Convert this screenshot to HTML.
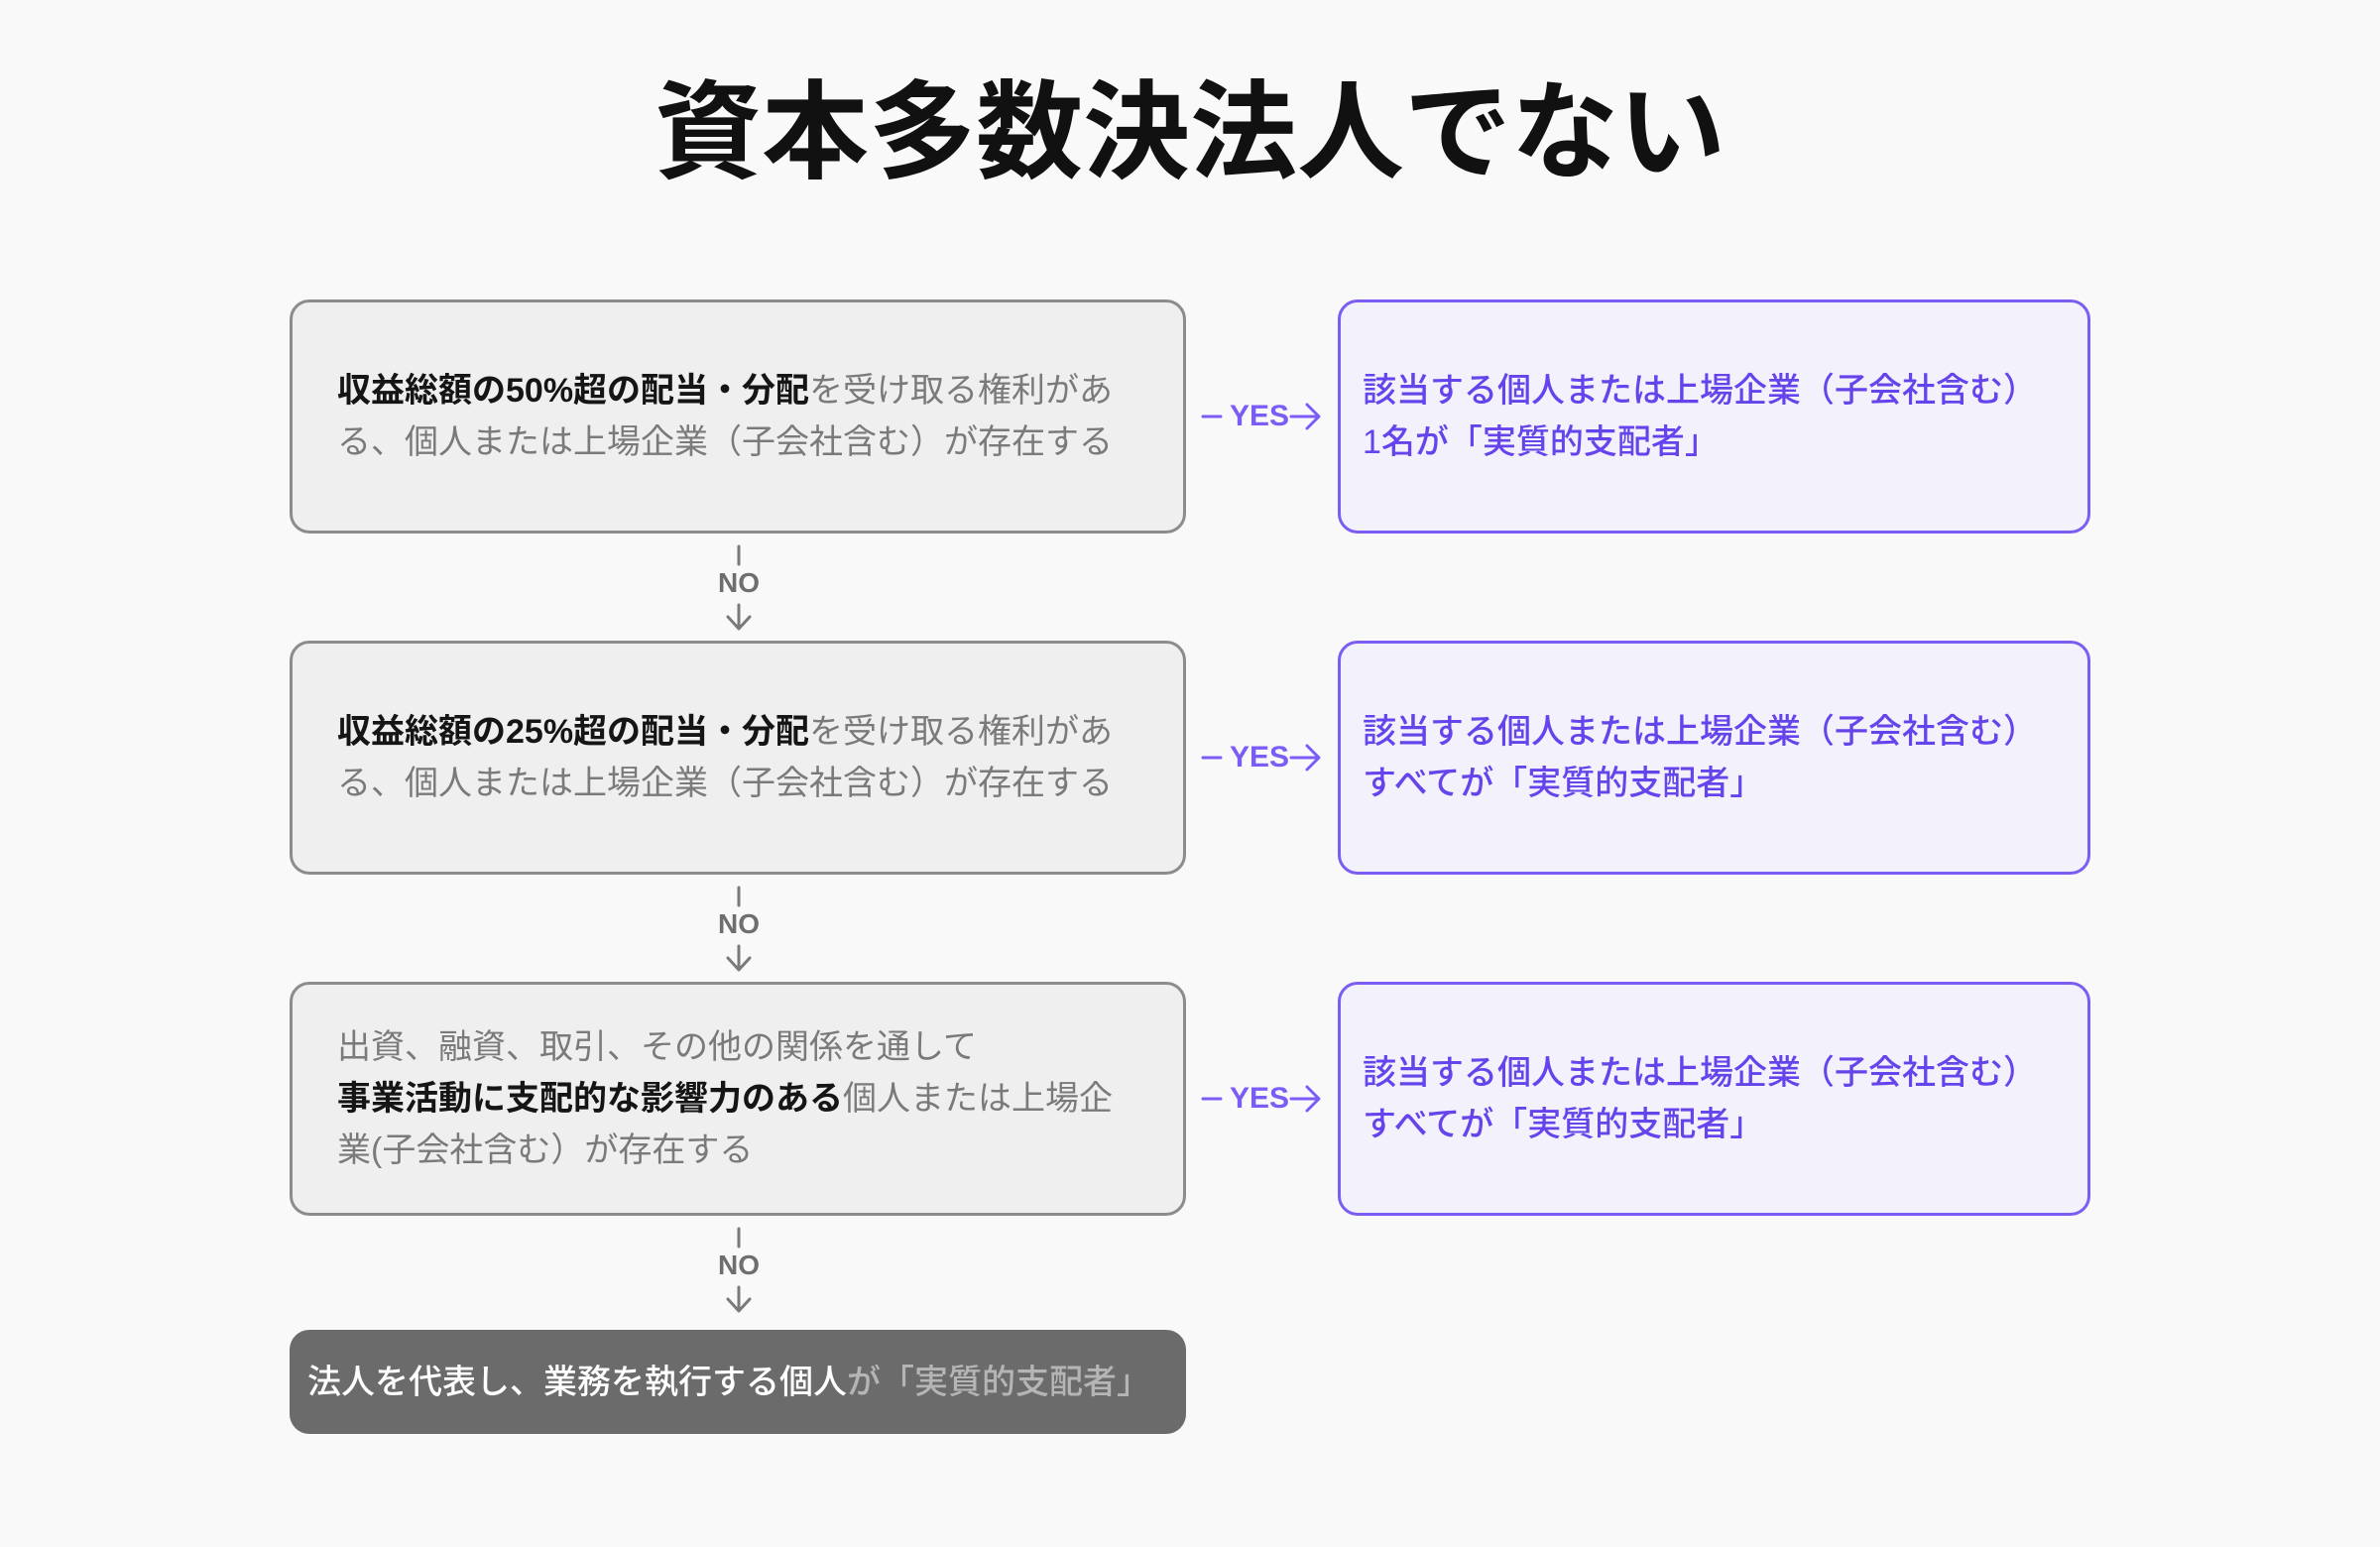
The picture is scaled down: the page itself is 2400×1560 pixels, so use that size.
<!DOCTYPE html>
<html><head><meta charset="utf-8"><style>
body{margin:0;width:2400px;height:1560px;background:#f9f9f9;font-family:"Liberation Sans","Noto Sans CJK JP",sans-serif;position:relative;overflow:hidden}
.t{position:absolute;left:0;width:2400px;top:64px;text-align:center;font-size:108px;font-weight:700;color:#111;line-height:140px}
.b{position:absolute;box-sizing:border-box;border-radius:20px;display:flex;align-items:center;font-size:34px;line-height:52px}
.l{left:292px;width:904px;background:#efefef;border:3px solid #8c8c8c;color:#7a7a7a;padding:0 44px 0 45px}
.l b{color:#151515;font-weight:700}
.r{left:1349px;width:759px;background:#f3f1fc;border:3px solid #7b5cf5;color:#6544ec;padding:0 22px;font-weight:500}
.y{position:absolute;left:1240px;font-size:30px;font-weight:700;color:#7b5cf5;line-height:40px}
.n{position:absolute;left:715px;width:60px;text-align:center;color:#6e6e6e;font-size:28px;font-weight:700;line-height:34px}
svg{position:absolute;left:0;top:0}
</style></head><body>
<div class="t">資本多数決法人でない</div>

<div class="b l" style="top:302px;height:236px"><div><b>収益総額の50%超の配当・分配</b>を受け取る権利がある、個人または上場企業（子会社含む）が存在する</div></div>
<div class="b r" style="top:302px;height:236px"><div>該当する個人または上場企業（子会社含む）<br>1名が「実質的支配者」</div></div>

<div class="b l" style="top:646px;height:236px"><div><b>収益総額の25%超の配当・分配</b>を受け取る権利がある、個人または上場企業（子会社含む）が存在する</div></div>
<div class="b r" style="top:646px;height:236px"><div>該当する個人または上場企業（子会社含む）<br>すべてが「実質的支配者」</div></div>

<div class="b l" style="top:990px;height:236px"><div>出資、融資、取引、その他の関係を通して<br><b>事業活動に支配的な影響力のある</b>個人または上場企業(子会社含む）が存在する</div></div>
<div class="b r" style="top:990px;height:236px"><div>該当する個人または上場企業（子会社含む）<br>すべてが「実質的支配者」</div></div>

<div class="b" style="left:292px;width:904px;top:1341px;height:105px;background:#6b6b6b;color:#fff;padding:0 18px;font-weight:500"><div>法人を代表し、業務を執行する個人<span style="color:#b5b5b5">が「実質的支配者」</span></div></div>

<div class="y" style="top:400px">YES</div>
<div class="y" style="top:744px">YES</div>
<div class="y" style="top:1088px">YES</div>

<div class="n" style="top:571px">NO</div>
<div class="n" style="top:915px">NO</div>
<div class="n" style="top:1259px">NO</div>

<svg width="2400" height="1560" fill="none" stroke-width="3" stroke-linecap="round" stroke-linejoin="round">
<g stroke="#7b5cf5">
<path d="M1213 420h18M1302 420h28M1318 408l12 12-12 12"/>
<path d="M1213 764h18M1302 764h28M1318 752l12 12-12 12"/>
<path d="M1213 1108h18M1302 1108h28M1318 1096l12 12-12 12"/>
</g>
<g stroke="#7a7a7a">
<path d="M745 551v18M745 610v24M734 622l11 12 11-12"/>
<path d="M745 895v18M745 954v24M734 966l11 12 11-12"/>
<path d="M745 1239v18M745 1298v24M734 1310l11 12 11-12"/>
</g>
</svg>
</body></html>
